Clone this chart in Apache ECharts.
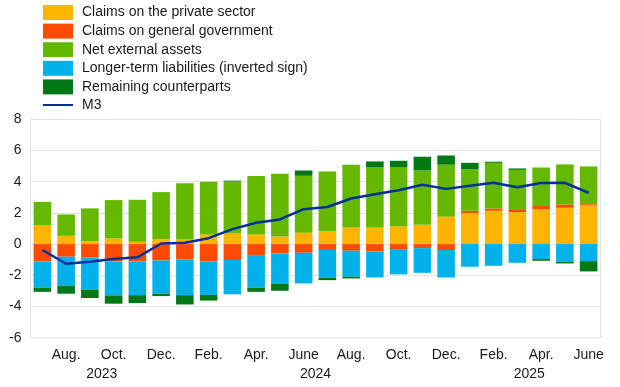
<!DOCTYPE html>
<html>
<head>
<meta charset="utf-8">
<script src="https://cdn.jsdelivr.net/npm/echarts@6/dist/echarts.min.js"></script>
<style>html,body{margin:0;padding:0;background:#fff}#c{width:620px;height:387px}</style>
</head>
<body>
<div id="c"></div>
<script>
const months = ['July','Aug.','Sep.','Oct.','Nov.','Dec.','Jan.','Feb.','Mar.','Apr.','May','June',
                'July','Aug.','Sep.','Oct.','Nov.','Dec.','Jan.','Feb.','Mar.','Apr.','May','June'];
const yearLabels = ['2023','2024','2025'];
const yearPositions = [3, 12, 21];
const yTicks = [-6, -4, -2, 0, 2, 4, 6, 8];

const privateSector = [1.22,0.53,0.19,0.36,0.15,0.32,0.33,0.62,0.68,0.62,0.49,0.73,
                       0.82,1.07,1.07,1.15,1.24,1.75,1.99,2.14,2.05,2.24,2.33,2.48];
const generalGov    = [-1.11,-0.81,-0.85,-1.11,-1.11,-1.05,-0.98,-1.12,-1.02,-0.75,-0.60,-0.56,
                       -0.38,-0.43,-0.47,-0.32,-0.26,-0.38,0.15,0.15,0.19,0.20,0.21,0.08];
const netExternal   = [1.49,1.37,2.10,2.46,2.69,3.01,3.57,3.37,3.36,3.74,4.02,3.65,
                       3.84,4.02,3.87,3.79,3.48,3.34,2.65,2.92,2.52,2.47,2.57,2.42];
const longerTerm    = [-1.69,-1.86,-2.06,-2.18,-2.16,-2.13,-2.29,-2.14,-2.20,-2.05,-1.92,-1.96,
                       -1.78,-1.66,-1.67,-1.62,-1.58,-1.76,-1.45,-1.39,-1.20,-0.96,-1.13,-1.09];
const remaining     = [-0.26,-0.51,-0.55,-0.53,-0.51,-0.15,-0.60,-0.36,0.03,-0.26,-0.47,0.34,
                       -0.15,-0.11,0.36,0.40,0.88,0.59,0.42,0.07,0.09,-0.11,-0.11,-0.66];
const m3            = [-0.38,-1.26,-1.13,-0.96,-0.85,0.04,0.09,0.38,0.96,1.37,1.58,2.24,
                       2.38,2.92,3.20,3.45,3.80,3.54,3.74,3.93,3.65,3.91,3.93,3.29];

const names = ['Claims on the private sector','Claims on general government','Net external assets',
               'Longer-term liabilities (inverted sign)','Remaining counterparts','M3'];
const colors = ['#FFB400','#FF4B00','#65B800','#00B1EA','#007816','#003299'];

const chart = echarts.init(document.getElementById('c'), null, {renderer:'canvas'});
const font = 'Liberation Sans, Arial, sans-serif';
function bar(i, data){
  return {name:names[i], type:'bar', stack:'s', data:data, barCategoryGap:'26%',
          itemStyle:{color:colors[i]}, emphasis:{disabled:true}};
}
chart.setOption({
  animation:false,
  textStyle:{fontFamily:font},
  legend:{
    orient:'vertical', left:38, top:0, itemWidth:30, itemHeight:15, itemGap:3.6,
    textStyle:{fontSize:14, color:'#1a1a1a', fontFamily:font, padding:[0,0,0,4]},
    data:names.map((n,i)=> i===5 ? {name:n, icon:'path://M0,6.5 L30,6.5 L30,8.5 L0,8.5 Z'} : {name:n, icon:'rect'}),
    selectedMode:false
  },
  grid:{left:30.5, right:19.5, top:119.3, bottom:49.3, show:true, borderColor:'#e3e3e3', borderWidth:1},
  xAxis:[{
    type:'category', data:months,
    axisLine:{show:false}, axisTick:{show:false},
    axisLabel:{interval:(idx)=> idx%2===1, fontSize:14, color:'#1a1a1a', margin:10, fontFamily:font}
  },{
    type:'value', min:0, max:24, position:'bottom', offset:19,
    axisLine:{show:false}, axisTick:{show:false}, splitLine:{show:false},
    axisLabel:{customValues:yearPositions, fontSize:14, color:'#1a1a1a', margin:10, fontFamily:font,
      formatter:(v)=> yearLabels[yearPositions.indexOf(v)]}
  }],
  yAxis:{
    type:'value', min:yTicks[0], max:yTicks[yTicks.length-1], interval:2,
    axisLine:{show:false}, axisTick:{show:false},
    splitLine:{lineStyle:{color:'#e3e3e3', width:1}},
    axisLabel:{fontSize:14, color:'#1a1a1a', margin:9, fontFamily:font}
  },
  series:[
    bar(0, privateSector), bar(1, generalGov), bar(2, netExternal), bar(3, longerTerm), bar(4, remaining),
    {name:names[5], type:'line', data:m3, symbol:'none', lineStyle:{color:colors[5], width:2.5},
     itemStyle:{color:colors[5]}, z:5, emphasis:{disabled:true}}
  ]
});
</script>
</body>
</html>
